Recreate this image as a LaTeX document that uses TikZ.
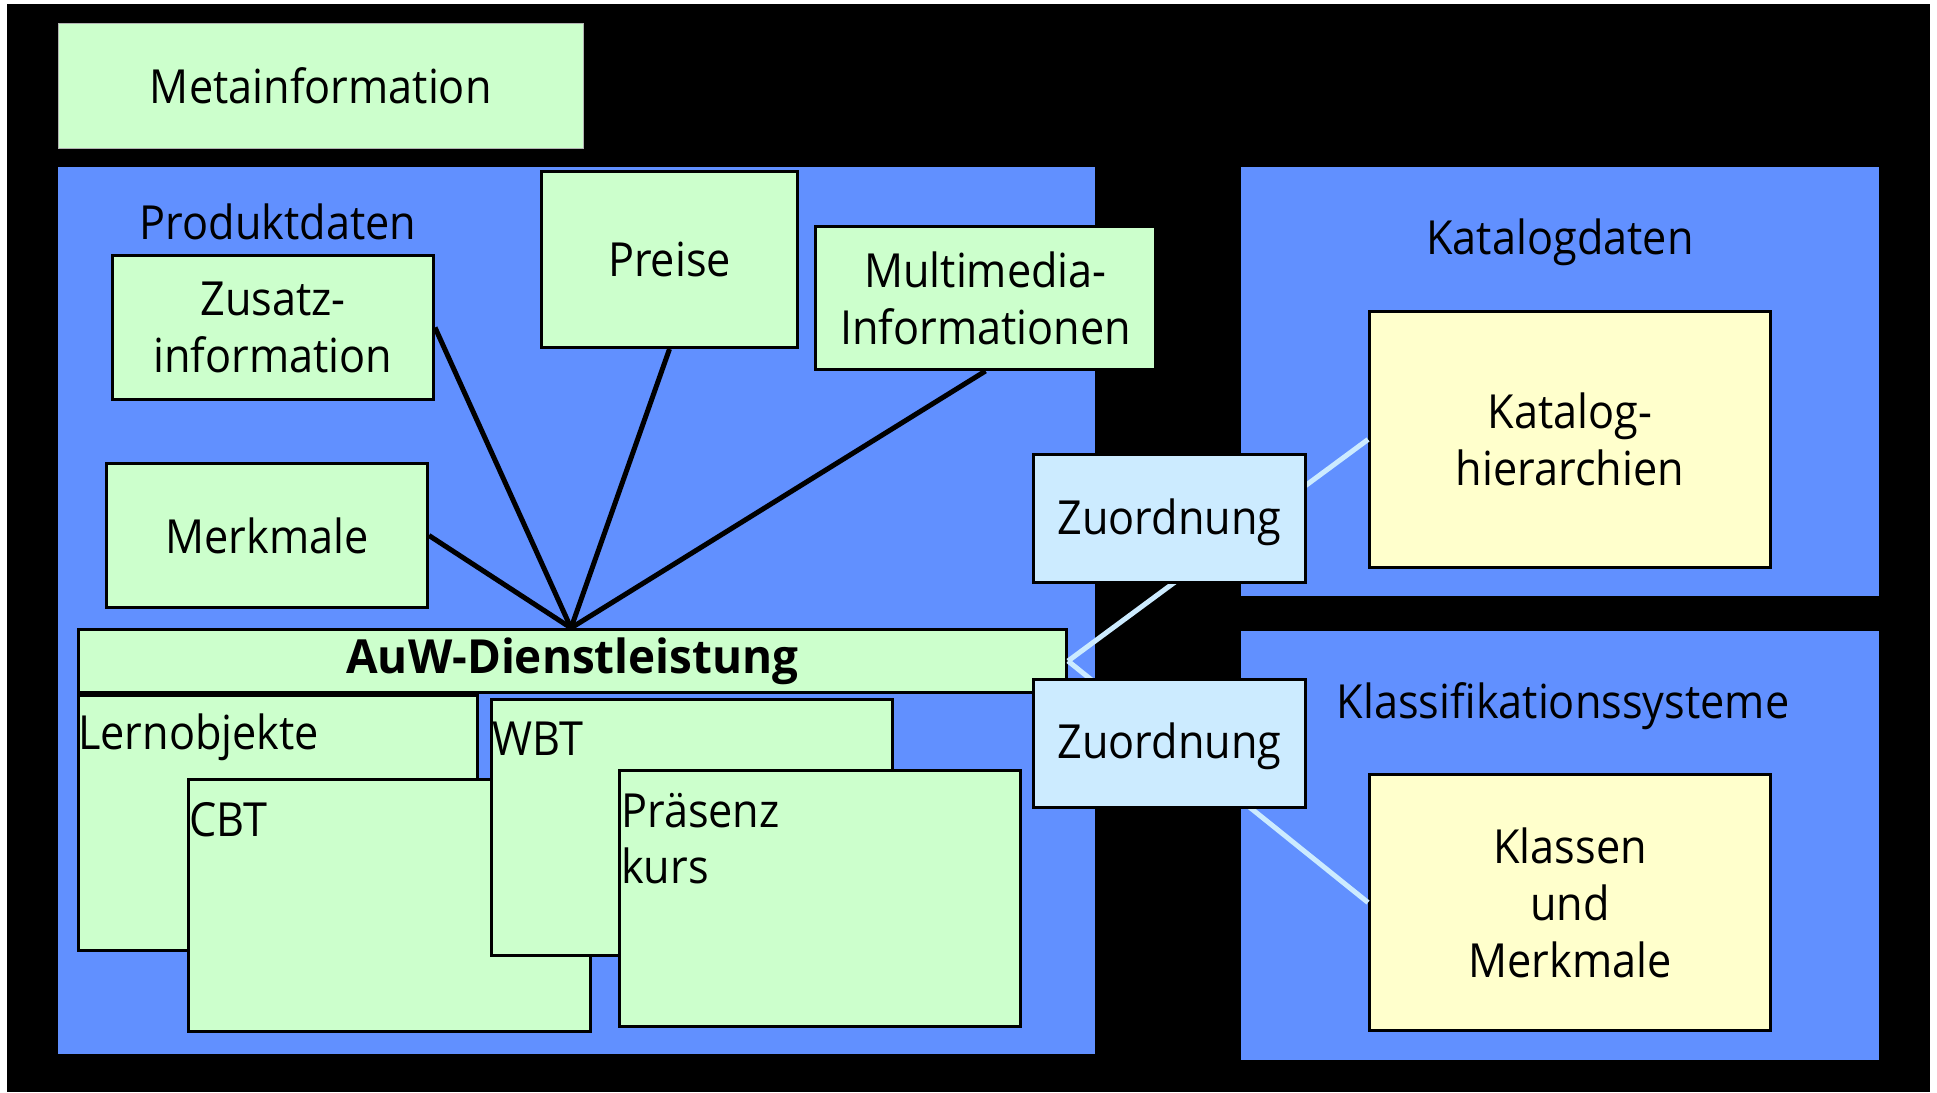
\documentclass[tikz,border=0pt]{standalone}
\usepackage{fontspec}
\setmainfont{Open Sans}[FakeStretch=0.92]
\newfontfamily\boldfam{Open Sans}[FakeStretch=0.975]
\newcommand{\dfont}{\fontsize{47}{57}\selectfont}
\definecolor{lgreen}{HTML}{CCFFCC}
\definecolor{areablue}{HTML}{6190FF}
\definecolor{lyellow}{HTML}{FFFFCC}
\definecolor{lblue}{HTML}{CCEBFF}
\begin{document}
\begin{tikzpicture}[x=1pt,y=-1pt,
  area/.style={fill=areablue,draw=none,anchor=north west,inner sep=0pt},
  box/.style={draw=black,line width=3pt,anchor=north west,inner sep=0pt,align=center,font=\dfont},
  gbox/.style={box,fill=lgreen},
  ybox/.style={box,fill=lyellow},
  zbox/.style={box,fill=lblue},
  lbl/.style={font=\dfont,inner sep=0pt,align=left},
  blackline/.style={line width=5pt,draw=black},
  blueline/.style={line width=5pt,draw=lblue}]
\useasboundingbox (0,0) rectangle (1937,1092);
\fill[white] (0,0) rectangle (1937,1092);
\fill[black] (7,4) rectangle (1930,1092);
% areas
\node[fill=lgreen,draw=gray!60,line width=0.6pt,anchor=north west,inner sep=0pt,minimum width=525pt,minimum height=125pt,font=\dfont] (meta) at (58,23) {Metainformation};
\node[area,minimum width=1037pt,minimum height=887pt] (prod) at (58,167) {};
\node[area,minimum width=638pt,minimum height=429pt] (kat) at (1241,167) {};
\node[area,minimum width=638pt,minimum height=429pt] (klass) at (1241,631) {};
\node[lbl,anchor=center] (prodlbl) at (278,222) {Produktdaten};
\node[lbl,anchor=center] (katlbl) at (1560,242) {Katalogdaten};
\node[lbl,anchor=center] (klasslbl) at (1563,706) {Klassifikationssysteme};
% product boxes
\node[gbox,minimum width=321pt,minimum height=144pt] (zusatz) at (111,254) {Zusatz-\\information};
\node[gbox,minimum width=256pt,minimum height=176pt] (preise) at (540,170) {Preise};
\node[gbox,minimum width=340pt,minimum height=143pt] (multi) at (814,225) {Multimedia-\\Informationen};
\node[gbox,minimum width=321pt,minimum height=144pt] (merk) at (105,462) {Merkmale};
\node[gbox,minimum width=988pt,minimum height=63pt,font=\dfont\boldfam\bfseries] (auw) at (77,628) {AuW-Dienstleistung};
\coordinate (hub) at (571,628);
\draw[blackline] (zusatz.east) -- (hub);
\draw[blackline] (preise.south) -- (hub);
\draw[blackline] (multi.south) -- (hub);
\draw[blackline] (merk.east) -- (hub);
% learning objects
\node[gbox,minimum width=399pt,minimum height=255pt] (lern) at (77,694) {};
\node[lbl,anchor=base west] (lernlbl) at (78,749) {Lernobjekte};
\node[gbox,minimum width=402pt,minimum height=252pt] (cbt) at (187,778) {};
\node[lbl,anchor=base west] (cbtlbl) at (189,836) {CBT};
\node[gbox,minimum width=401pt,minimum height=256pt] (wbt) at (490,698) {};
\node[lbl,anchor=base west] (wbtlbl) at (492,755) {WBT};
\node[gbox,minimum width=401pt,minimum height=256pt] (praes) at (618,769) {};
\node[lbl,anchor=base west] (praeslbl1) at (621,827) {Präsenz};
\node[lbl,anchor=base west] (praeslbl2) at (621,883) {kurs};
% catalog boxes
\node[ybox,minimum width=401pt,minimum height=256pt] (kathier) at (1368,310) {Katalog-\\hierarchien};
\node[ybox,minimum width=401pt,minimum height=256pt] (klassen) at (1368,773) {Klassen\\und\\Merkmale};
% assignment lines
\draw[blueline] (auw.east) -- (kathier.west);
\draw[blueline] (auw.east) -- (klassen.west);
\node[zbox,minimum width=272pt,minimum height=128pt] (zu1) at (1032,453) {\raisebox{-4pt}[\height][\depth]{Zuordnung}};
\node[zbox,minimum width=272pt,minimum height=128pt] (zu2) at (1032,678) {\raisebox{-3pt}[\height][\depth]{Zuordnung}};
\end{tikzpicture}
\end{document}
